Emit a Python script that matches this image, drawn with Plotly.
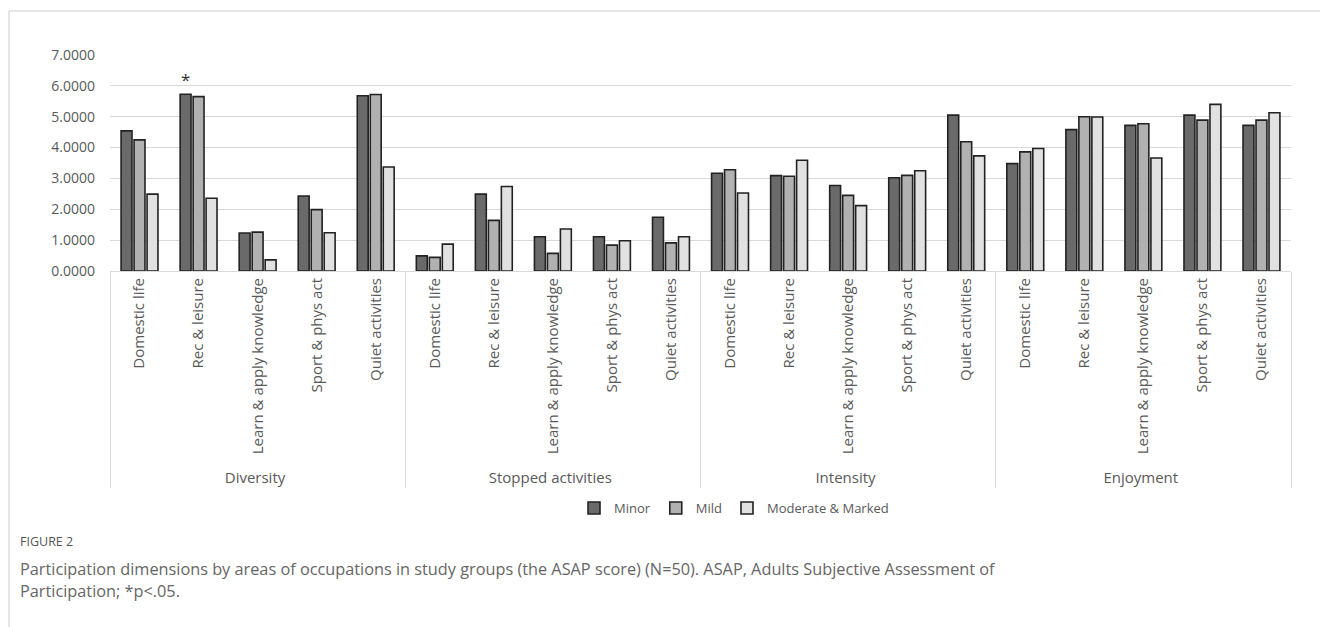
import plotly.graph_objects as go

groups = ["Diversity", "Stopped activities", "Intensity", "Enjoyment"]
areas = ["Domestic life", "Rec & leisure", "Learn & apply knowledge", "Sport & phys act", "Quiet activities"]

minor = [4.54, 5.73, 1.23, 2.43, 5.68,
         0.49, 2.49, 1.11, 1.11, 1.74,
         3.17, 3.09, 2.77, 3.02, 5.05,
         3.48, 4.58, 4.72, 5.05, 4.72]
mild = [4.25, 5.65, 1.26, 1.99, 5.72,
        0.44, 1.64, 0.57, 0.84, 0.91,
        3.28, 3.07, 2.45, 3.10, 4.19,
        3.86, 5.00, 4.77, 4.89, 4.89]
moderate = [2.49, 2.36, 0.36, 1.24, 3.37,
            0.87, 2.74, 1.36, 0.98, 1.11,
            2.53, 3.59, 2.12, 3.25, 3.73,
            3.97, 4.99, 3.66, 5.40, 5.13]
significance = ["", "*", "", "", "",
                "", "", "", "", "",
                "", "", "", "", "",
                "", "", "", "", ""]

series_names = ["Minor", "Mild", "Moderate & Marked"]
series_colors = ["#6a6a6a", "#b1b1b1", "#e1e1e1"]

x_outer = [g for g in groups for a in areas]
x_inner = [a for g in groups for a in areas]
xcat = [x_outer, x_inner]

FONT = "Open Sans"
W, H = 1320, 627
L, R, T, B = 110, 29, 55, 356
PW, PH = W - L - R, H - T - B


def px_x(px):
    return (px - L) / PW


def px_y(py):
    return (H - B - py) / PH


fig = go.Figure()
for name, vals, col in zip(series_names, [minor, mild, moderate], series_colors):
    kw = {}
    if name == "Minor":
        kw = dict(text=significance, textposition="outside",
                  textfont=dict(family=FONT, size=17, color="#333333"))
    fig.add_trace(go.Bar(
        name=name, x=xcat, y=vals,
        marker=dict(color=col, line=dict(color="#222222", width=1.6)),
        cliponaxis=False, **kw))

fig.update_layout(
    width=W, height=H,
    margin=dict(l=L, r=R, t=T, b=B, autoexpand=False),
    paper_bgcolor="white", plot_bgcolor="white",
    font=dict(family=FONT, color="#595959"),
    barmode="group", bargap=0.34, bargroupgap=0.16,
    showlegend=True,
    legend=dict(orientation="h", x=px_x(734), xanchor="center",
                y=px_y(508), yanchor="middle",
                font=dict(family=FONT, size=13, color="#595959"),
                itemwidth=30, traceorder="normal"),
    xaxis=dict(showline=True, linecolor="#d9d9d9", linewidth=1,
               showgrid=False, tickangle=-90, ticks="",
               tickfont=dict(family=FONT, size=15, color="#595959"),
               showdividers=True, dividercolor="#d9d9d9", dividerwidth=1),
    yaxis=dict(range=[0, 7], dtick=1, tickformat=".4f",
               showgrid=True, gridcolor="#d9d9d9", gridwidth=1,
               zeroline=False, showline=False, ticks="",
               ticklabelstandoff=14,
               tickfont=dict(family=FONT, size=14, color="#595959")),
)

# outer frame (top + left)
fig.add_shape(type="line", xref="paper", yref="paper",
              x0=px_x(9), x1=px_x(1320), y0=px_y(11), y1=px_y(11),
              line=dict(color="#cccccc", width=1))
fig.add_shape(type="line", xref="paper", yref="paper",
              x0=px_x(9), x1=px_x(9), y0=px_y(11), y1=px_y(627),
              line=dict(color="#cccccc", width=1))

fig.add_annotation(text="FIGURE 2", xref="paper", yref="paper",
                   x=px_x(18), y=px_y(541), xanchor="left", yanchor="middle",
                   showarrow=False, font=dict(family=FONT, size=12.5, color="#555555"))
fig.add_annotation(text="Participation dimensions by areas of occupations in study groups (the ASAP score) (N=50). ASAP, Adults Subjective Assessment of",
                   xref="paper", yref="paper",
                   x=px_x(18), y=px_y(569), xanchor="left", yanchor="middle",
                   showarrow=False, font=dict(family=FONT, size=16.3, color="#666666"))
fig.add_annotation(text="Participation; *p<.05.",
                   xref="paper", yref="paper",
                   x=px_x(18), y=px_y(591), xanchor="left", yanchor="middle",
                   showarrow=False, font=dict(family=FONT, size=16.3, color="#666666"))

fig.write_html("out.html", config={"displayModeBar": False},
               post_script="document.body.style.margin='0';")
